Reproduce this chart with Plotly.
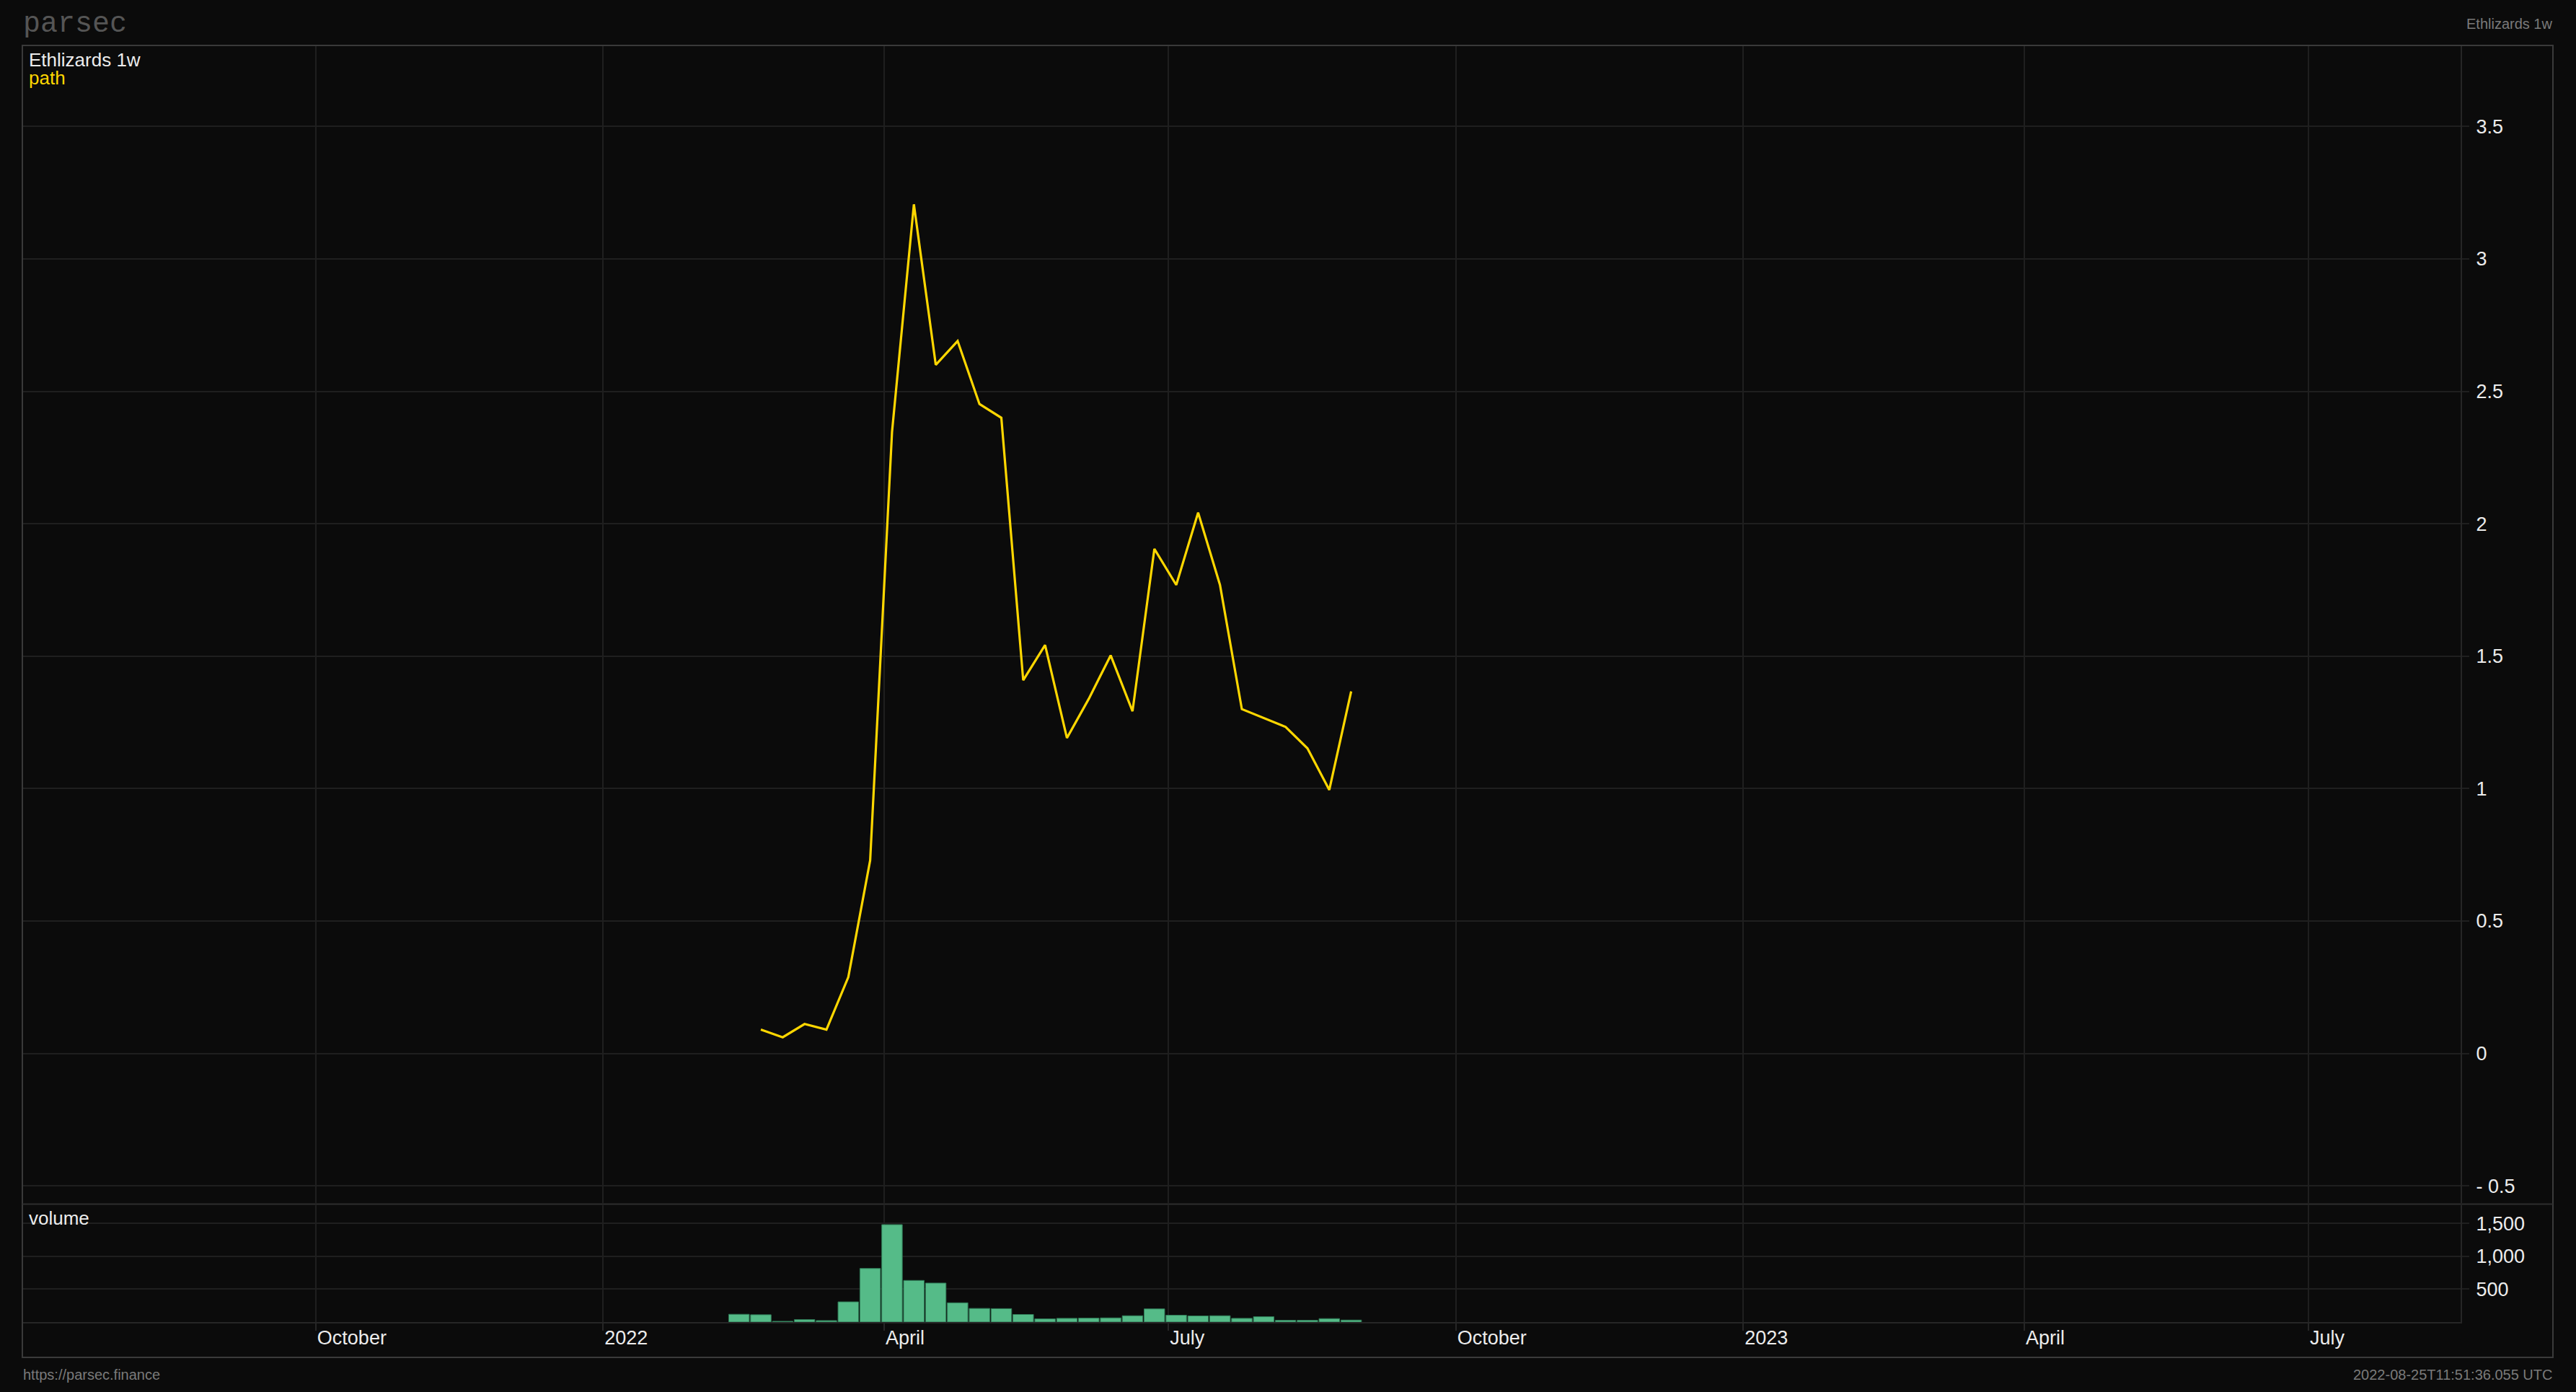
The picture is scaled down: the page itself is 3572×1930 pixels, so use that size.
import plotly.graph_objects as go
from plotly.subplots import make_subplots

# ---- data ----
price_dates = [
    "2022-02-20", "2022-02-27", "2022-03-06", "2022-03-13", "2022-03-20", "2022-03-27",
    "2022-04-03", "2022-04-10", "2022-04-17", "2022-04-24", "2022-05-01", "2022-05-08",
    "2022-05-15", "2022-05-22", "2022-05-29", "2022-06-05", "2022-06-12", "2022-06-19",
    "2022-06-26", "2022-07-03", "2022-07-10", "2022-07-17", "2022-07-24", "2022-07-31",
    "2022-08-07", "2022-08-14", "2022-08-21", "2022-08-28",
]
price_values = [
    0.09, 0.061, 0.111, 0.09, 0.288, 0.729,
    2.347, 3.206, 2.60, 2.69, 2.452, 2.40,
    1.409, 1.542, 1.191, 1.339, 1.503, 1.292,
    1.905, 1.769, 2.042, 1.769, 1.30, 1.266,
    1.233, 1.152, 0.995, 1.367,
]
volume_dates = ["2022-02-13"] + price_dates
volume_values = [
    118, 111, 11, 37, 22, 307, 815,
    1482, 633, 593, 293, 207, 204,
    115, 48, 56, 59, 63, 96,
    200, 104, 93, 96, 56, 81,
    26, 26, 52, 30,
]
x_tick_vals = ["2021-10-01", "2022-01-01", "2022-04-01", "2022-07-01",
               "2022-10-01", "2023-01-01", "2023-04-01", "2023-07-01"]
x_tick_text = ["October", "2022", "April", "July", "October", "2023", "April", "July"]
y_tick_vals = [-0.5, 0, 0.5, 1, 1.5, 2, 2.5, 3, 3.5]
y_tick_text = ["- 0.5", "0", "0.5", "1", "1.5", "2", "2.5", "3", "3.5"]
vol_tick_vals = [500, 1000, 1500]
vol_tick_text = ["500", "1,000", "1,500"]

# ---- styling ----
BG = "#0b0b0b"
GRID = "#1f1f1f"
AXIS = "#262626"
FRAME = "#3a3a3a"
TEXT = "#ececec"
DIM = "#7a7a7a"
GOLD = "#ffd700"
GREEN = "#55bb88"
FONT = "Liberation Sans, Arial, sans-serif"

W, H = 3572, 1930
L, R, T, B = 32, 3412, 63, 1833
PW, PH = R - L, B - T


def px(xs):
    return (xs - L) / PW


def py(ys):
    return (B - ys) / PH


fig = make_subplots(rows=2, cols=1, shared_xaxes=True, vertical_spacing=0)

fig.add_trace(go.Scatter(
    x=[d + "T12:00" for d in price_dates], y=price_values, mode="lines",
    line=dict(color=GOLD, width=3.2), showlegend=False, hoverinfo="skip",
), row=1, col=1)

fig.add_trace(go.Bar(
    x=[d + "T12:00" for d in volume_dates], y=volume_values,
    marker=dict(color=GREEN, line=dict(color="#2f7a56", width=1)),
    showlegend=False, hoverinfo="skip",
), row=2, col=1)

xrange = ["2021-06-29 07:00", "2023-08-18 17:00"]
common_x = dict(
    range=xrange, showgrid=True, gridcolor=GRID, gridwidth=2,
    tickvals=x_tick_vals, ticktext=x_tick_text, zeroline=False,
)
fig.update_xaxes(**common_x, row=1, col=1, showticklabels=False, ticks="", showline=False)
fig.update_xaxes(**common_x, row=2, col=1, showticklabels=True, ticks="outside",
                 ticklen=10, tickwidth=2, tickcolor=AXIS,
                 ticklabelposition="outside right",
                 ticklabelstandoff=-3,
                 tickfont=dict(family=FONT, size=27, color=TEXT),
                 showline=True, linecolor=AXIS, linewidth=2)

fig.update_yaxes(row=1, col=1, domain=[0.0932, 1], range=[-0.565, 3.806],
                 side="right", tickvals=y_tick_vals, ticktext=y_tick_text,
                 showgrid=True, gridcolor=GRID, gridwidth=2, zeroline=False,
                 ticks="outside", ticklen=10, tickwidth=2, tickcolor=GRID,
                 showline=True, linecolor=AXIS, linewidth=2,
                 ticklabelstandoff=4,
                 tickfont=dict(family=FONT, size=27, color=TEXT))
fig.update_yaxes(row=2, col=1, domain=[0, 0.0915], range=[0, 1777],
                 side="right", tickvals=vol_tick_vals, ticktext=vol_tick_text,
                 showgrid=True, gridcolor=GRID, gridwidth=2, zeroline=False,
                 ticks="outside", ticklen=10, tickwidth=2, tickcolor=GRID,
                 showline=True, linecolor=AXIS, linewidth=2,
                 ticklabelstandoff=4,
                 tickfont=dict(family=FONT, size=27, color=TEXT))

shapes = [
    dict(type="rect", xref="paper", yref="paper",
         x0=px(31), x1=px(3540), y0=py(1882), y1=py(63),
         line=dict(color=FRAME, width=2), fillcolor="rgba(0,0,0,0)", layer="above"),
    dict(type="line", xref="paper", yref="paper",
         x0=px(31), x1=px(3540), y0=py(1669.5), y1=py(1669.5),
         line=dict(color="#2e2e2e", width=2), layer="above"),
]

annotations = [
    dict(text="parsec", xref="paper", yref="paper", x=px(30), y=py(58),
         xanchor="left", yanchor="bottom", showarrow=False,
         font=dict(family="Liberation Mono, Courier New, monospace", size=40, color="#555555")),
    dict(text="Ethlizards 1w", xref="paper", yref="paper", x=px(3541), y=py(20),
         xanchor="right", yanchor="top", showarrow=False,
         font=dict(family=FONT, size=20, color=DIM)),
    dict(text="Ethlizards 1w", xref="paper", yref="paper", x=px(38), y=py(66),
         xanchor="left", yanchor="top", showarrow=False,
         font=dict(family=FONT, size=26, color=TEXT)),
    dict(text="path", xref="paper", yref="paper", x=px(38), y=py(91),
         xanchor="left", yanchor="top", showarrow=False,
         font=dict(family=FONT, size=26, color=GOLD)),
    dict(text="volume", xref="paper", yref="paper", x=px(38), y=py(1672),
         xanchor="left", yanchor="top", showarrow=False,
         font=dict(family=FONT, size=26, color=TEXT)),
    dict(text="https://parsec.finance", xref="paper", yref="paper", x=px(30), y=py(1893),
         xanchor="left", yanchor="top", showarrow=False,
         font=dict(family=FONT, size=20, color=DIM)),
    dict(text="2022-08-25T11:51:36.055 UTC", xref="paper", yref="paper", x=px(3541), y=py(1893),
         xanchor="right", yanchor="top", showarrow=False,
         font=dict(family=FONT, size=20, color=DIM)),
]

fig.update_layout(
    width=W, height=H,
    margin=dict(l=L, r=W - R, t=T, b=H - B, pad=0),
    paper_bgcolor=BG, plot_bgcolor=BG,
    bargap=0.06,
    shapes=shapes, annotations=annotations,
    showlegend=False,
    font=dict(family=FONT, color=TEXT),
)

page_css = (
    "document.documentElement.style.background='#0b0b0b';"
    "document.body.style.margin='0';"
    "document.body.style.background='#0b0b0b';"
    "document.body.style.overflow='hidden';"
)
fig.write_html("out.html", post_script=page_css,
               config={"displayModeBar": False, "staticPlot": True})
